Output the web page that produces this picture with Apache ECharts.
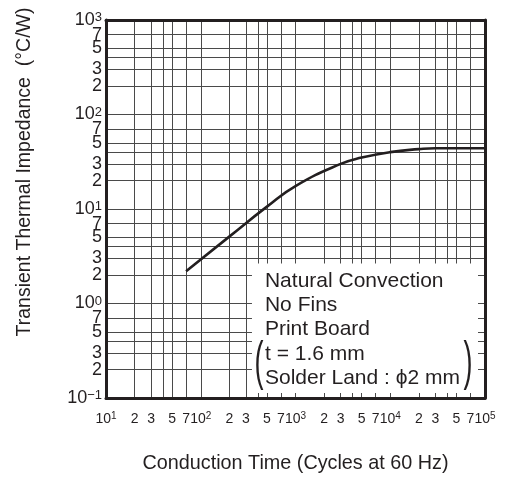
<!DOCTYPE html>
<html><head><meta charset="utf-8">
<script src="https://cdn.jsdelivr.net/npm/echarts@6/dist/echarts.min.js"></script>
<style>html,body{margin:0;padding:0;background:#fff}#c{width:510px;height:482px}</style>
</head><body><div id="c"></div>
<script>
// ---- data ----
const xTickValues = [10,20,30,40,50,70,100,200,300,400,500,700,1000,2000,3000,4000,5000,7000,10000,20000,30000,40000,50000,70000,100000];
const xLabelValues = [10,20,30,50,70,100,200,300,500,700,1000,2000,3000,5000,7000,10000,20000,30000,50000,70000,99999.999];
const yTickValues = [0.1,0.2,0.3,0.4,0.5,0.7,1,2,3,4,5,7,10,20,30,40,50,70,100,200,300,400,500,700,1000];
// y tick labels, split over two label rows so that no neighbour gets auto-hidden
const yLabelValuesA = [0.1,0.3,0.7,2,5,10,30,70,200,500,999.99999];
const yLabelValuesB = [0.2,0.5,1,3,7,20,50,100,300,700];
const conductionTime = [70, 200, 500, 1000, 3000, 5000, 10000, 20000, 30000, 100000];
const impedance = [2.2, 5.1, 10.6, 17.5, 30, 35, 40, 43, 44, 44];
const noteLines = ['Natural Convection', 'No Fins', 'Print Board', 't = 1.6 mm', 'Solder Land : \u03d52 mm'];
const xName = 'Conduction Time (Cycles at 60 Hz)';
const yName = 'Transient Thermal Impedance  (\u00b0C/W)';

const INK = '#231f20';
const GRID = '#4a4a4a';
const FONT = '"Liberation Sans", Arial, sans-serif';
const NARROW = '"Liberation Sans Narrow", "Liberation Sans", Arial, sans-serif';

function fmt(v) {
  const e = Math.log10(v);
  const r = Math.round(e);
  if (Math.abs(e - r) < 1e-6) return '{b|10}{s|' + (r < 0 ? '\u2212' + (-r) : r) + '}';
  return '{b|' + Math.round(v / Math.pow(10, Math.floor(e + 1e-9))) + '}';
}

const yRich = {
  b: {fontSize: 18, fontFamily: FONT, color: INK, lineHeight: 18},
  s: {fontSize: 13, fontFamily: FONT, color: INK, verticalAlign: 'top', lineHeight: 12}
};

const chart = echarts.init(document.getElementById('c'), null, {renderer: 'canvas'});
const grid = {left: 106, right: 25, top: 20, bottom: 84};

const option = {
  animation: false,
  backgroundColor: '#fff',
  grid: grid,
  xAxis: [{
    type: 'log', logBase: 10, min: 10, max: 100000, position: 'bottom',
    name: xName, nameLocation: 'middle', nameGap: 56,
    nameTextStyle: {fontSize: 19.8, color: INK, fontFamily: FONT},
    axisLine: {show: true, lineStyle: {color: INK, width: 3}},
    axisTick: {show: false, customValues: xTickValues},
    splitLine: {show: true, lineStyle: {color: GRID, width: 1}},
    minorTick: {show: false}, minorSplitLine: {show: false},
    axisLabel: {
      customValues: xLabelValues, formatter: fmt, margin: 13, color: INK,
      rich: {
        b: {fontSize: 14, fontFamily: NARROW, color: INK, lineHeight: 16},
        s: {fontSize: 10, fontFamily: NARROW, color: INK, verticalAlign: 'top', lineHeight: 10}
      }
    }
  }, {
    type: 'log', logBase: 10, min: 10, max: 100000, position: 'top',
    axisLine: {show: true, onZero: false, lineStyle: {color: INK, width: 3}},
    axisTick: {show: false}, axisLabel: {show: false}, splitLine: {show: false}
  }],
  yAxis: [{
    type: 'log', logBase: 10, min: 0.1, max: 1000, position: 'left',
    axisLine: {show: true, lineStyle: {color: INK, width: 3}},
    axisTick: {show: false, customValues: yTickValues},
    splitLine: {show: true, lineStyle: {color: GRID, width: 1}},
    minorTick: {show: false}, minorSplitLine: {show: false},
    axisLabel: {customValues: yLabelValuesA, formatter: fmt, margin: 4, color: INK, rich: yRich}
  }, {
    type: 'log', logBase: 10, min: 0.1, max: 1000, position: 'right',
    axisLine: {show: true, onZero: false, lineStyle: {color: INK, width: 3}},
    axisTick: {show: false}, axisLabel: {show: false}, splitLine: {show: false}
  }, {
    type: 'log', logBase: 10, min: 0.1, max: 1000, position: 'left', offset: 0,
    axisLine: {show: false}, axisTick: {show: false}, splitLine: {show: false},
    minorTick: {show: false}, minorSplitLine: {show: false},
    axisLabel: {customValues: yLabelValuesB, formatter: fmt, margin: 4, color: INK, rich: yRich}
  }],
  series: [{
    type: 'line', xAxisIndex: 0, yAxisIndex: 0,
    data: conductionTime.map((t, i) => [t, impedance[i]]),
    smooth: true, symbol: 'none', z: 10,
    lineStyle: {color: INK, width: 2.6}
  }]
};
chart.setOption(option);

// annotation box, positioned from the axes
const p1 = chart.convertToPixel({xAxisIndex: 0, yAxisIndex: 0}, [300, 3]);
const p2 = chart.convertToPixel({xAxisIndex: 0, yAxisIndex: 0}, [100000, 0.1]);
const boxL = p1[0] + 6, boxT = p1[1] + 5, boxR = p2[0] - 7, boxB = p2[1] - 5;
const textX = p1[0] + 19;
const firstY = p1[1] + 22.5;
const step = 24.3;
const elements = [{
  type: 'rect', z: 50, silent: true,
  shape: {x: boxL, y: boxT, width: boxR - boxL, height: boxB - boxT},
  style: {fill: '#fff'}
}];
noteLines.forEach((t, i) => {
  elements.push({
    type: 'text', z: 51, x: textX, y: firstY + i * step,
    style: {text: t, fontSize: 21, fontFamily: FONT, fill: INK, textAlign: 'left', textVerticalAlign: 'middle'}
  });
});
const parenY = firstY + 3.5 * step - 2;
elements.push({
  type: 'text', z: 51, x: p1[0] + 13, y: parenY, scaleX: 0.5,
  style: {text: '(', fontSize: 54, fontFamily: FONT, fill: INK, textAlign: 'center', textVerticalAlign: 'middle'}
});
elements.push({
  type: 'text', z: 51, x: boxR - 10, y: parenY, scaleX: 0.5,
  style: {text: ')', fontSize: 54, fontFamily: FONT, fill: INK, textAlign: 'center', textVerticalAlign: 'middle'}
});
elements.push({
  type: 'text', z: 51, x: 25, y: 172, rotation: Math.PI / 2,
  style: {text: yName, fontSize: 19.5, fontFamily: FONT, fill: INK, textAlign: 'center', textVerticalAlign: 'middle'}
});
chart.setOption({graphic: {elements: elements}});
</script>
</body></html>
